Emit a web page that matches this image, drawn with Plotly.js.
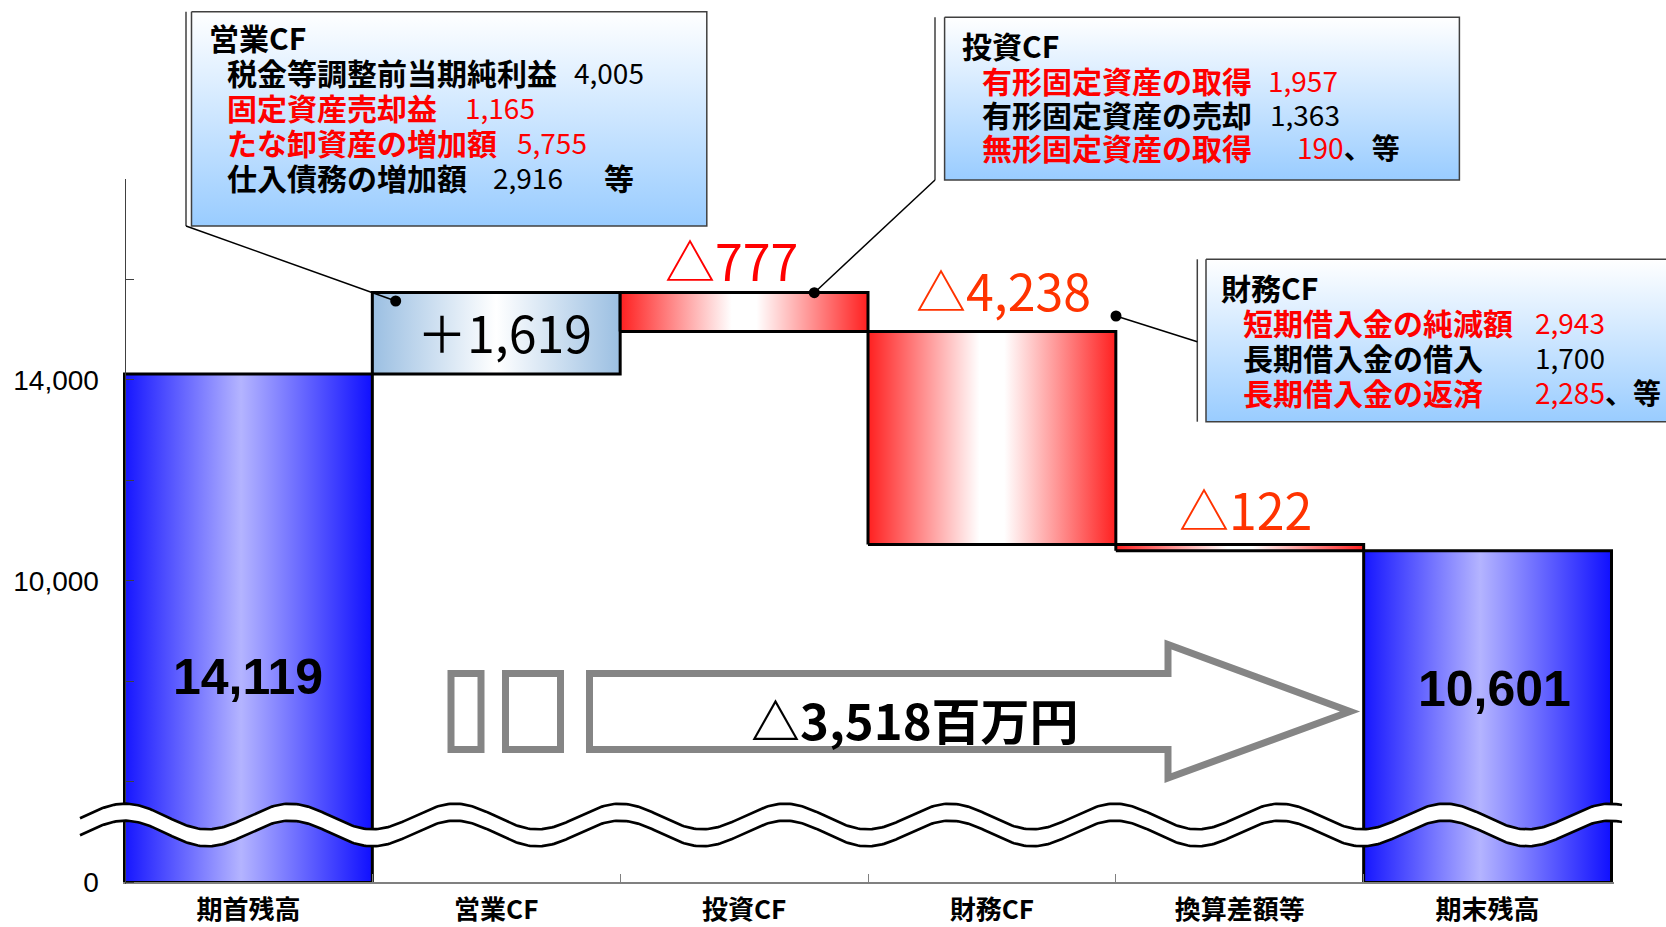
<!DOCTYPE html>
<html><head><meta charset="utf-8">
<script src="https://cdn.plot.ly/plotly-3.0.1.min.js"></script>
<style>html,body{margin:0;padding:0;background:#fff}#chart{width:1666px;height:927px}</style>
</head><body><div id="chart"></div>
<script>
// ---------------- data ----------------
const categories = ['期首残高','営業CF','投資CF','財務CF','換算差額等','期末残高'];
const measures   = ['total','relative','relative','relative','relative','total'];
const values     = [14119, 1619, -777, -4238, -122, 10601];
const barLabels  = ['14,119','＋1,619','△777','△4,238','△122','10,601'];
const netChangeLabel = '△3,518百万円';
const yTickVals  = [4000, 6000, 8000, 10000, 12000, 14000, 16000, 18000];
const yTickText  = ['0', '', '', '10,000', '', '14,000', '', ''];
const AXIS_FLOOR = 4000;   // broken axis: the "0" baseline is drawn where 4,000 would be
const AXIS_TOP   = 18000;

const opCallTitle   = '営業CF';
const opCallItems   = ['税金等調整前当期純利益','固定資産売却益','たな卸資産の増加額','仕入債務の増加額'];
const opCallAmounts = ['4,005','1,165','5,755','2,916'];
const opCallOutflow = [false, true, true, false];
const invCallTitle   = '投資CF';
const invCallItems   = ['有形固定資産の取得','有形固定資産の売却','無形固定資産の取得'];
const invCallAmounts = ['1,957','1,363','190'];
const invCallOutflow = [true, false, true];
const finCallTitle   = '財務CF';
const finCallItems   = ['短期借入金の純減額','長期借入金の借入','長期借入金の返済'];
const finCallAmounts = ['2,943','1,700','2,285'];
const finCallOutflow = [true, false, true];

// ---------------- geometry / style ----------------
const W = 1666, H = 927;
const PX_L = 124.5, PX_R = 1611.5, PY_T = 178.9, PY_B = 882.4, PAD = 2;
const ux = (PX_R - PX_L) / categories.length;
const uy = (PY_B - PY_T) / (AXIS_TOP - AXIS_FLOOR);
const JP = "'Noto Sans CJK JP', 'Noto Sans', sans-serif";
const RED = '#ff0000', ORANGE_RED = '#ff3300', BLACK = '#000000';

const CS_TOTAL = [[0,'#1616ff'],[0.47,'#b4b4ff'],[1,'#1010ff']];
const CS_UP    = [[0,'#9bbfe2'],[0.5,'#ffffff'],[1,'#9bbfe2']];
const CS_DOWN  = [[0,'#ff2020'],[0.45,'#ffffff'],[0.55,'#ffffff'],[1,'#ff2020']];

// waterfall extents
const lo = [], hi = [];
let running = 0;
values.forEach((v, i) => {
  if (measures[i] === 'total') { lo.push(AXIS_FLOOR); hi.push(v); running = v; }
  else { const s = running; running += v; lo.push(Math.min(s, running)); hi.push(Math.max(s, running)); }
});

const traces = [];
values.forEach((v, i) => {
  const cs = measures[i] === 'total' ? CS_TOTAL : (v >= 0 ? CS_UP : CS_DOWN);
  traces.push({
    x: [i - 0.5, i + 0.5, i + 0.5, i - 0.5, i - 0.5],
    y: [lo[i], lo[i], hi[i], hi[i], lo[i]],
    xaxis: 'x', yaxis: 'y', mode: 'lines', fill: 'toself',
    fillgradient: {type: 'horizontal', colorscale: cs},
    line: {color: '#000', width: 3}, hoverinfo: 'skip', showlegend: false
  });
});

// callout boxes (pixel overlay axes x2/y2)
function boxTrace(b) {
  return {x: [b[0], b[2], b[2], b[0], b[0]], y: [b[1], b[1], b[3], b[3], b[1]],
    xaxis: 'x2', yaxis: 'y2', mode: 'lines', fill: 'toself',
    fillgradient: {type: 'vertical', colorscale: [[0,'#99ccff'],[1,'#ffffff']]},
    line: {color: '#404040', width: 1.5}, hoverinfo: 'skip', showlegend: false};
}
const callouts = [
  {title: opCallTitle, items: opCallItems, amounts: opCallAmounts, outflow: opCallOutflow,
   box: [191.5, 11.7, 706.8, 226], accentX: 186, titleXY: [207, 37], itemX: 225,
   rowY: [72, 107, 142, 177], amountX: [572, 463, 515, 491],
   etc: '', etcRow: 3, dot: [395.7, 301], leaderFrom: [186, 226]},
  {title: invCallTitle, items: invCallItems, amounts: invCallAmounts, outflow: invCallOutflow,
   box: [944.6, 17.3, 1459.4, 180], accentX: 935, titleXY: [960, 45], itemX: 980,
   rowY: [80, 113.5, 147], amountX: [1266, 1268, 1295],
   etc: '、等', etcRow: 2, dot: [814.3, 292.7], leaderFrom: [935, 180]},
  {title: finCallTitle, items: finCallItems, amounts: finCallAmounts, outflow: finCallOutflow,
   box: [1206, 259.3, 1730, 421.7], accentX: 1197.3, titleXY: [1219, 287], itemX: 1241,
   rowY: [322, 357, 392], amountX: [1533, 1533, 1533],
   etc: '、等', etcRow: 2, dot: [1116, 316], leaderFrom: [1197.3, 341.7]}
];

const annotations = [];
const shapes = [];
const BOXFONT = 30, AMTFONT = 28;
callouts.forEach(c => {
  traces.push(boxTrace(c.box));
  shapes.push({type: 'line', xref: 'x2', yref: 'y2', x0: c.accentX, x1: c.accentX, y0: c.box[1], y1: c.box[3],
    line: {color: '#404040', width: 1.5}});
  shapes.push({type: 'line', xref: 'x2', yref: 'y2', x0: c.leaderFrom[0], y0: c.leaderFrom[1], x1: c.dot[0], y1: c.dot[1],
    line: {color: '#000', width: 1.5}});
  annotations.push({xref: 'x2', yref: 'y2', x: c.titleXY[0], y: c.titleXY[1], xanchor: 'left', yanchor: 'middle',
    text: c.title, showarrow: false, font: {family: JP, size: BOXFONT, color: BLACK, weight: 'bold'}});
  c.items.forEach((it, k) => {
    const col = c.outflow[k] ? RED : BLACK;
    annotations.push({xref: 'x2', yref: 'y2', x: c.itemX, y: c.rowY[k], xanchor: 'left', yanchor: 'middle',
      text: it, showarrow: false, font: {family: JP, size: BOXFONT, color: col, weight: 'bold'}});
    let txt = c.amounts[k];
    if (k === c.etcRow && c.etc) txt += '<span style="color:#000000;font-weight:bold">' + c.etc + '</span>';
    annotations.push({xref: 'x2', yref: 'y2', x: c.amountX[k], y: c.rowY[k], xanchor: 'left', yanchor: 'middle',
      text: txt, showarrow: false, font: {family: JP, size: AMTFONT, color: col}});
  });
});
// trailing "等" of the operating CF callout sits apart from its amount
annotations.push({xref: 'x2', yref: 'y2', x: 602, y: 177, xanchor: 'left', yanchor: 'middle',
  text: '等', showarrow: false, font: {family: JP, size: BOXFONT, color: BLACK, weight: 'bold'}});

traces.push({x: callouts.map(c => c.dot[0]), y: callouts.map(c => c.dot[1]), xaxis: 'x2', yaxis: 'y2',
  mode: 'markers', marker: {color: '#000', size: 11}, hoverinfo: 'skip', showlegend: false});

// axis-break wave (decoration)
const wx = [], wUp = [], wLo = [];
for (let x = 80; x <= 1622; x += 2) {
  const yy = 816.5 - 12.8 * Math.cos(2 * Math.PI * (x - 125) / 165);
  wx.push(x); wUp.push(yy); wLo.push(yy + 17);
}
traces.push({x: wx, y: wUp, xaxis: 'x2', yaxis: 'y2', mode: 'lines', line: {color: '#000', width: 2.7}, hoverinfo: 'skip', showlegend: false});
traces.push({x: wx, y: wLo, xaxis: 'x2', yaxis: 'y2', mode: 'lines', fill: 'tonexty', fillcolor: '#ffffff',
  line: {color: '#000', width: 2.7}, hoverinfo: 'skip', showlegend: false});

// hollow arrow
const GRAY = '#858585';
shapes.push({type: 'rect', xref: 'x2', yref: 'y2', x0: 451, x1: 481, y0: 673.5, y1: 749.5, line: {color: GRAY, width: 7}});
shapes.push({type: 'rect', xref: 'x2', yref: 'y2', x0: 505.5, x1: 560.5, y0: 673.5, y1: 749.5, line: {color: GRAY, width: 7}});
shapes.push({type: 'path', xref: 'x2', yref: 'y2',
  path: 'M589.5,673.5 L1168,673.5 L1168,644.5 L1350,711.5 L1168,778 L1168,749.5 L589.5,749.5 Z',
  line: {color: GRAY, width: 7}});
annotations.push({xref: 'x2', yref: 'y2', x: 915, y: 718, xanchor: 'center', yanchor: 'middle', showarrow: false,
  text: netChangeLabel, font: {family: JP, size: 49, color: BLACK, weight: 'bold'}});

// bar value labels
const labelColors = [BLACK, BLACK, RED, ORANGE_RED, ORANGE_RED, BLACK];
const labelShift = [[0, -49], [8, 2], [-13, 34], [12, 43], [6, 37], [7, 28]];
values.forEach((v, i) => {
  const isTotal = measures[i] === 'total';
  const atTop = !isTotal && v < 0;
  annotations.push({xref: 'x', yref: 'y', x: i, y: atTop ? hi[i] : (lo[i] + hi[i]) / 2,
    xanchor: 'center', yanchor: 'middle', xshift: labelShift[i][0], yshift: labelShift[i][1],
    showarrow: false, text: barLabels[i],
    font: isTotal ? {family: "'Liberation Sans', Arial, sans-serif", size: 50, color: labelColors[i], weight: 'bold'}
                  : {family: JP, size: 50, color: labelColors[i]}});
});

const layout = {
  width: W, height: H, margin: {l: 0, r: 0, t: 0, b: 0},
  paper_bgcolor: '#ffffff', plot_bgcolor: 'rgba(0,0,0,0)', showlegend: false,
  xaxis: {
    domain: [(PX_L - PAD) / W, (PX_R + PAD) / W],
    range: [-0.5 - PAD / ux, categories.length - 0.5 + PAD / ux],
    anchor: 'free', position: (H - PY_B) / H,
    showline: true, linecolor: '#808080', linewidth: 1.5,
    tickmode: 'array', tickvals: categories.map((_, i) => i), ticktext: categories,
    ticks: '', ticklabelstandoff: 4,
    tickfont: {family: JP, size: 26, color: '#000', weight: 'bold'},
    minor: {tickmode: 'array', tickvals: categories.slice(1).map((_, i) => i + 0.5),
            ticks: 'inside', ticklen: 8, tickcolor: '#808080', tickwidth: 1, showgrid: false},
    showgrid: false, zeroline: false, fixedrange: true
  },
  yaxis: {
    domain: [(H - PY_B - PAD) / H, (H - PY_T) / H],
    range: [AXIS_FLOOR - PAD / uy, AXIS_TOP],
    anchor: 'free', position: PX_L / W,
    showline: true, linecolor: '#404040', linewidth: 1,
    tickmode: 'array', tickvals: yTickVals, ticktext: yTickText,
    ticks: 'inside', ticklen: 8, tickcolor: '#404040', tickwidth: 1, ticklabelstandoff: 20,
    tickfont: {family: "'Liberation Sans', Arial, sans-serif", size: 28, color: '#000'},
    showgrid: false, zeroline: false, fixedrange: true
  },
  xaxis2: {domain: [0, 1], range: [0, W], anchor: 'y2', visible: false, fixedrange: true},
  yaxis2: {domain: [0, 1], range: [H, 0], anchor: 'x2', visible: false, fixedrange: true},
  shapes: shapes, annotations: annotations
};

Plotly.newPlot('chart', traces, layout, {staticPlot: true, displayModeBar: false});
</script></body></html>
